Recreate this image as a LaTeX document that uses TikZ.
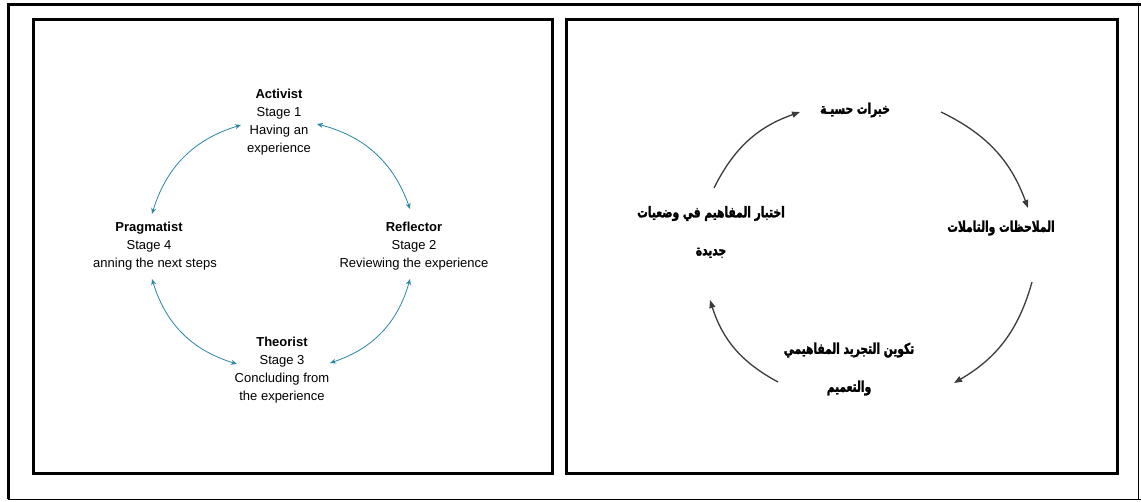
\documentclass[tikz,border=0pt]{standalone}
\usepackage{fontspec}
\setmainfont{Liberation Sans}
\newfontfamily\arabicfont[Script=Arabic,FakeStretch=0.72,FakeBold=1.8]{DejaVu Sans}
\TeXXeTstate=1
\usepackage{tikz}
\usetikzlibrary{arrows.meta,positioning}
\definecolor{cTeal}{HTML}{2C86A8}
\definecolor{cDark}{HTML}{3C3C3C}

\begin{document}
\begin{tikzpicture}[x=1pt,y=1pt,
  stage/.style={align=center,inner sep=0pt,font=\fontsize{13}{18}\selectfont},
  phase/.style={align=center,inner sep=0pt,font=\arabicfont\bfseries\fontsize{14.8}{38}\selectfont},
  twoway/.style={cTeal,line width=0.8pt,{Stealth[length=6pt,width=5pt]}-{Stealth[length=6pt,width=5pt]}},
  oneway/.style={cDark,line width=1.3pt,-{Triangle[length=8pt,width=6pt]}},
  panel/.style={line width=3pt}]
  \useasboundingbox (0,0) rectangle (1141,501);
  \fill[white] (0,0) rectangle (1141,501);
  % frames
  \draw[line width=3pt] (8,2) -- (8,496) -- (1141,496);
  \draw[line width=1pt] (8,2) -- (1141,2);
  \draw[line width=1pt] (1138,2) -- (1138,496);
  \draw[panel] (33,28) rectangle (552,481);
  \draw[panel] (566,28) rectangle (1117,481);

  % left cycle
  \node[stage] (act) at (279,378.5) {\textbf{Activist}\\Stage 1\\Having an\\experience};
  \node[stage] (refl) at (414,254.5) {\textbf{Reflector}\\Stage 2\\Reviewing the experience};
  \node[stage] (theo) at (282,130.5) {\textbf{Theorist}\\Stage 3\\Concluding from\\the experience};
  \node[stage] (prag) at (149,254.5) {\textbf{Pragmatist}\\Stage 4\\\hspace*{12pt}anning the next steps};

  \draw[twoway] ([shift={(38,-1.5)}]act.center) to[bend left=28] ([shift={(-4,37.5)}]refl.center);
  \draw[twoway] ([shift={(-4,-32.5)}]refl.center) to[bend left=28] ([shift={(48,7.5)}]theo.center);
  \draw[twoway] ([shift={(-45,6.5)}]theo.center) to[bend left=28] ([shift={(3,-32.5)}]prag.center);
  \draw[twoway] ([shift={(3,32.5)}]prag.center) to[bend left=28] ([shift={(-38,-2.5)}]act.center);

  % right cycle
  \node[phase] (exp) at (855,391) {\beginR خبرات حسيـة\endR};
  \node[phase] (obs) at (1001,273) {\beginR الملاحظات والتاملات\endR};
  \node[phase] (abst) at (849,132) {\beginR تكوين التجريد المفاهيمي\endR\\\beginR والتعميم\endR};
  \node[phase] (test) at (711,269) {\beginR اختبار المفاهيم في وضعيات\endR\\\beginR جديدة\endR};

  \draw[oneway] ([shift={(3,44)}]test.center) to[bend left=22] ([shift={(-55,-2)}]exp.center);
  \draw[oneway] ([shift={(86,-2)}]exp.center) to[bend left=22] ([shift={(27,20)}]obs.center);
  \draw[oneway] ([shift={(31,-54)}]obs.center) to[bend left=22] ([shift={(105,-14)}]abst.center);
  \draw[oneway] ([shift={(-71,-13)}]abst.center) to[bend left=22] ([shift={(-1,-68)}]test.center);
\end{tikzpicture}
\end{document}
